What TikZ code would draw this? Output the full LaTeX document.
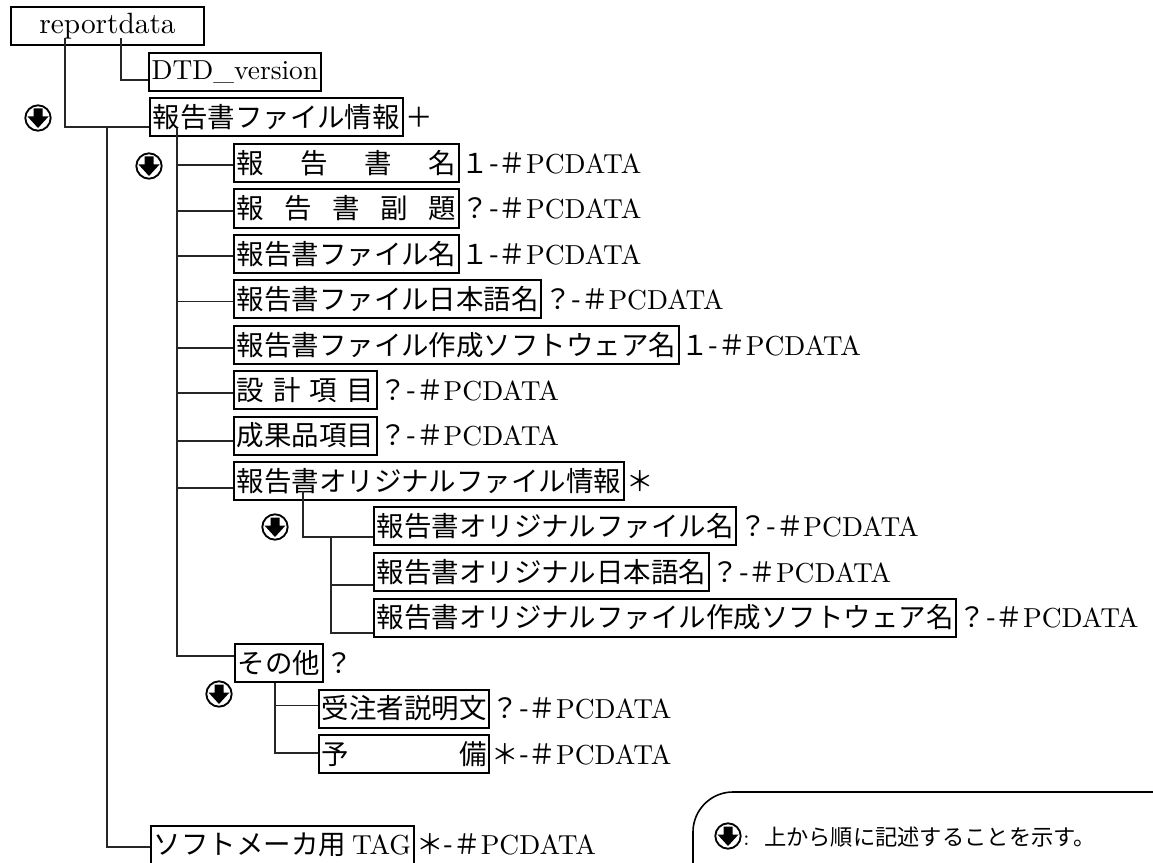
\documentclass[tikz,border=0pt]{standalone}
\usepackage{fontspec}
\newfontfamily\jpfont{Noto Sans CJK JP}
\newfontfamily\lmfont{lmroman10-regular}[Extension=.otf]
\usetikzlibrary{calc}

\newcommand{\jptext}{\fontsize{20.6}{24}\selectfont\jpfont}
\newcommand{\lmtext}{\fontsize{20.6}{24}\selectfont\lmfont}
\newcommand{\pcd}[1]{#1-＃{\lmfont PCDATA}}

\tikzset{
	elem/.style={draw, line width=1.5pt, anchor=west, inner xsep=2pt, inner ysep=0pt, minimum height=28.5pt, font=\jptext},
	attr/.style={anchor=base west, inner sep=0pt, font=\jptext},
	conn/.style={line width=0.8pt, draw=black!85},
	order/.style={circle, draw, line width=1.4pt, minimum size=19pt, inner sep=0pt,
		path picture={\fill[shift={(path picture bounding box.center)}]
			(-4.5,-9.5) -- (4.5,-9.5) -- (4.5,-1.5) -- (10.5,-1.5) -- (0,10) -- (-10.5,-1.5) -- (-4.5,-1.5) -- cycle;}}
}

\begin{document}
\begin{tikzpicture}[x=0.75pt, y=-0.75pt]
		\useasboundingbox (0,0) rectangle (1153,863);
%		\draw[help lines, step=50] (0,0) grid (1153,863);
		\path (10,26.5) coordinate (c_rep);
		\path (148,72.5) coordinate (c_dtd);
		\path (149,117.5) coordinate (c_info);
		\path (150,844.5) coordinate (c_tag);

		\path (233,163) coordinate (c_name);
		\path (233,208.5) coordinate (c_subtitle);
		\path (233,254) coordinate (c_fname);
		\path (233,299) coordinate (c_fjname);
		\path (233,345) coordinate (c_fsoft);
		\path (233,390) coordinate (c_design);
		\path (233,435.5) coordinate (c_product);
		\path (233,481) coordinate (c_orig);
		\path (373,526) coordinate (c_oname);
		\path (373,572) coordinate (c_ojname);
		\path (373,617.5) coordinate (c_osoft);
		\path (234,663) coordinate (c_other);
		\path (318,708.5) coordinate (c_note);
		\path (318,754) coordinate (c_spare);

		% elements
		\draw (c_rep) node(rep) [elem, font=\fontsize{22}{26}\selectfont\lmfont, minimum width=144.75pt] {reportdata};
		\draw (c_dtd) node(dtd) [elem, font=\lmtext] {DTD\_version};
		\draw (c_info) node(info) [elem] {報告書ファイル情報};
		\draw (c_tag) node(tag) [elem] {ソフトメーカ用 {\lmfont TAG}};

		\draw (c_name) node(name) [elem] {\makebox[8em][l]{報\hfill 告\hfill 書\hfill 名}};
		\draw (c_subtitle) node(subtitle) [elem] {\makebox[8em][l]{報\hfill 告\hfill 書\hfill 副\hfill 題}};
		\draw (c_fname) node(fname) [elem] {報告書ファイル名};
		\draw (c_fjname) node(fjname) [elem] {報告書ファイル日本語名};
		\draw (c_fsoft) node(fsoft) [elem] {報告書ファイル作成ソフトウェア名};
		\draw (c_design) node(design) [elem] {\makebox[5em][l]{設\hfill 計\hfill 項\hfill 目}};
		\draw (c_product) node(product) [elem] {成果品項目};
		\draw (c_orig) node(orig) [elem] {報告書オリジナルファイル情報};
		\draw (c_oname) node(oname) [elem] {報告書オリジナルファイル名};
		\draw (c_ojname) node(ojname) [elem] {報告書オリジナル日本語名};
		\draw (c_osoft) node(osoft) [elem] {報告書オリジナルファイル作成ソフトウェア名};
		\draw (c_other) node(other) [elem] {その他};
		\draw (c_note) node(note) [elem] {受注者説明文};
		\draw (c_spare) node(spare) [elem] {\makebox[6em][l]{予\hfill 備}};

		% occurrence and content
		\node[attr] (info_a) at ([xshift=1pt]info.base east) {＋};
		\node[attr] (orig_a) at ([xshift=1pt]orig.base east) {＊};
		\node[attr] (other_a) at ([xshift=1pt]other.base east) {？};
		\foreach \n/\m in {name/１,subtitle/？,fname/１,fjname/？,fsoft/１,design/？,product/？,
			oname/？,ojname/？,osoft/？,note/？,spare/＊,tag/＊}
			\node[attr] (\n_a) at ([xshift=1pt]\n.base east) {\pcd{\m}};

		% connectors
		\path ($(rep.south west)+(55,-8)$) coordinate (rep_a);
		\path ($(rep.south west)+(111,-8)$) coordinate (rep_b);
		\draw[conn] (rep_b) |- ($(dtd.west)+(0,7.5)$);
		\draw[conn] (rep_a) |- ($(info.west)+(0,9.5)$);
		\path ($(info.west)+(-42,9.5)$) coordinate (trunk);
		\draw[conn] (trunk) |- ($(tag.west)+(0,2.5)$);

		\path ($(info.south west)+(28,-9)$) coordinate (info_t);
		\foreach \n/\dy in {name/2,subtitle/2.5,fname/2,fjname/2.5,fsoft/3,design/3,product/5.5,orig/7,other/-7}
			\draw[conn] (info_t) |- ($(\n.west)+(0,\dy)$);

		\path ($(orig.south west)+(70,-10)$) coordinate (orig_t);
		\draw[conn] (orig_t) |- ($(oname.west)+(0,11)$);
		\path ($(oname.west)+(-42,11)$) coordinate (orig_u);
		\foreach \n/\dy in {ojname/13,osoft/15.5}
			\draw[conn] (orig_u) |- ($(\n.west)+(0,\dy)$);

		\path ($(other.south west)+(41,0)$) coordinate (other_t);
		\foreach \n/\dy in {note/-3,spare/-1}
			\draw[conn] (other_t) |- ($(\n.west)+(0,\dy)$);

		% sequence marks
		\node[order] (ord_info) at (38,118) {};
		\node[order] (ord_name) at (149,166) {};
		\node[order] (ord_orig) at (275,527) {};
		\node[order] (ord_other) at (219,694) {};

		% legend
		\draw[line width=1.2pt, rounded corners=30pt] (693,875) |- (1165,792);
		\node[order] (ord_leg) at (728,836) {};
		\node[anchor=west, inner sep=0pt, font=\fontsize{16.7}{20}\selectfont\jpfont] (legend) at (743,837)
			{{\lmfont :}\hspace{11pt}上から順に記述することを示す。};
	\end{tikzpicture}
\end{document}
